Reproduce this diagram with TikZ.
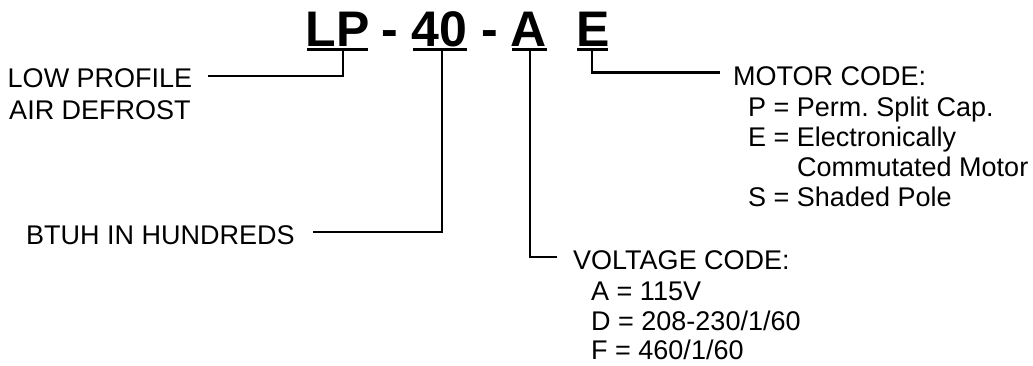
\documentclass[tikz,border=0pt]{standalone}
\usepackage{fontspec}
\setmainfont{Liberation Sans}
\frenchspacing
\begin{document}
\begin{tikzpicture}[x=1pt,y=-1pt,
  lbl/.style={inner sep=0pt, anchor=base west, font=\fontsize{27}{30}\selectfont},
  ttl/.style={inner sep=0pt, anchor=base, font=\fontsize{50}{55}\selectfont\bfseries},
  conn/.style={line width=2.5pt},
  uline/.style={line width=2.6pt}]
\useasboundingbox (0,0) rectangle (1033,366);
% title
\node[ttl] (LP) at (337.5,47) {LP};
\node[ttl] (d1) at (390,47) {-};
\node[ttl] (n40) at (439.5,47) {40};
\node[ttl] (d2) at (489.5,47) {-};
\node[ttl] (A) at (529,47) {A};
\node[ttl] (E) at (593,47) {E};
% underlines
\draw[uline] (307,49.5) -- (368,49.5);
\draw[uline] (413,49.5) -- (467,49.5);
\draw[uline] (512,49.5) -- (547,49.5);
\draw[uline] (577,49.5) -- (608,49.5);
% connector anchors
\coordinate (lpu) at (343,49.5);
\coordinate (u40) at (442,49.5);
\coordinate (uA) at (530,49.5);
\coordinate (uE) at (592,49.5);
\coordinate (lpend) at (208,76);
\coordinate (btuhend) at (313,232);
\coordinate (voltend) at (557,257);
\coordinate (motend) at (720,72.5);
% labels
\node[lbl, anchor=base] (low1) at (100,88) {LOW PROFILE};
\node[lbl, anchor=base] (low2) at (100,120) {AIR DEFROST};
\node[lbl] (btuh) at (26,244) {BTUH IN HUNDREDS};
\node[lbl] (volt) at (573,269) {VOLTAGE CODE:};
\node[lbl] (v1) at (591,300) {A = 115V};
\node[lbl] (v2) at (591,330) {D = 208-230/1/60};
\node[lbl] (v3) at (591,359) {F = 460/1/60};
\node[lbl] (motor) at (733,86) {MOTOR CODE:};
\node[lbl] (m1) at (748,117) {P = Perm. Split Cap.};
\node[lbl] (m2) at (748,147) {E = Electronically};
\node[lbl] (m3) at (797,177) {Commutated Motor};
\node[lbl] (m4) at (748,207) {S = Shaded Pole};
% connectors
\draw[conn] (lpu) |- (lpend);
\draw[conn] (u40) |- (btuhend);
\draw[conn] (uA) |- (voltend);
\draw[conn] (uE) |- (motend);
\end{tikzpicture}
\end{document}
